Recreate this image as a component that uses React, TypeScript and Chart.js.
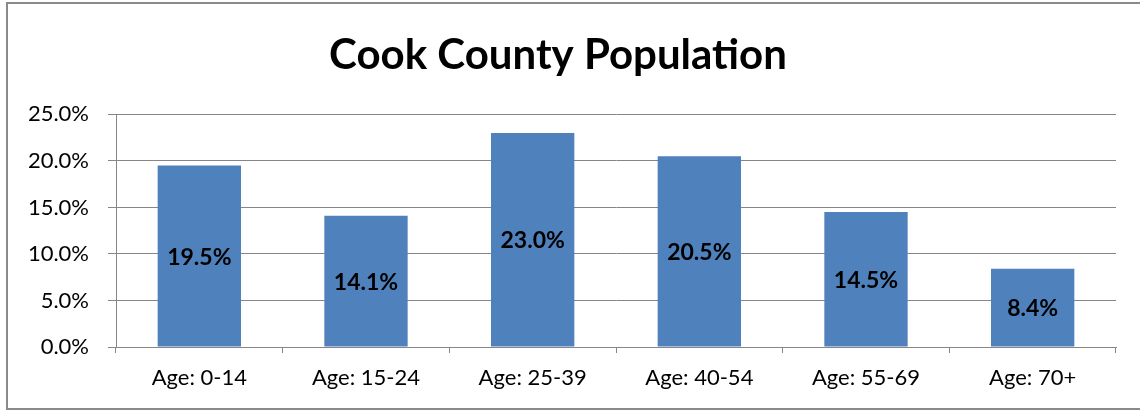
import React, { useEffect, useRef } from "react";
import { Chart, registerables } from "chart.js";

Chart.register(...registerables);

const categories = ["Age: 0-14", "Age: 15-24", "Age: 25-39", "Age: 40-54", "Age: 55-69", "Age: 70+"];
const shares = [19.5, 14.1, 23.0, 20.5, 14.5, 8.4];
const titleText = "Cook County Population";

const FONT = "Lato, 'Open Sans', sans-serif";

const framePlugin = {
  id: "frame",
  beforeDraw(chart: any) {
    const ctx = chart.ctx;
    ctx.save();
    ctx.fillStyle = "#ffffff";
    ctx.fillRect(0, 0, chart.width, chart.height);
    ctx.strokeStyle = "#8a8a8a";
    ctx.lineWidth = 2;
    ctx.strokeRect(7, 3, chart.width + 20, 406);
    ctx.restore();
  },
};

const valueLabelPlugin = {
  id: "valueLabels",
  afterDatasetsDraw(chart: any) {
    const ctx = chart.ctx;
    const meta = chart.getDatasetMeta(0);
    const yScale = chart.scales.y;
    ctx.save();
    ctx.font = `bold 23px ${FONT}`;
    ctx.fillStyle = "#000000";
    ctx.textAlign = "center";
    ctx.textBaseline = "middle";
    meta.data.forEach((bar: any, i: number) => {
      const v = shares[i];
      const yMid = (yScale.getPixelForValue(v) + yScale.getPixelForValue(0)) / 2;
      ctx.fillText(v.toFixed(1) + "%", bar.x, yMid + 1);
    });
    ctx.restore();
  },
};

export default function App() {
  const ref = useRef<HTMLCanvasElement>(null);
  useEffect(() => {
    if (!ref.current) return;
    const chart = new Chart(ref.current, {
      type: "bar",
      data: {
        labels: categories,
        datasets: [
          {
            data: shares,
            backgroundColor: "#4F81BD",
            borderWidth: 0,
            categoryPercentage: 1.0,
            barPercentage: 0.5,
          },
        ],
      },
      options: {
        responsive: false,
        animation: false,
        events: [],
        layout: { padding: { left: 0, right: 24, top: 0, bottom: 0 } },
        plugins: {
          legend: { display: false },
          tooltip: { enabled: false },
          title: {
            display: true,
            text: titleText,
            color: "#000000",
            font: { family: FONT, size: 42, weight: "bold", lineHeight: 1.2 },
            padding: { top: 30, bottom: 34 },
          },
        },
        scales: {
          x: {
            offset: true,
            grid: {
              offset: true,
              drawOnChartArea: false,
              drawTicks: true,
              tickLength: 6,
              color: "#868686",
            },
            border: { display: true, color: "#868686", width: 1 },
            ticks: {
              color: "#000000",
              font: { family: FONT, size: 22 },
              padding: 12,
              maxRotation: 0,
            },
            afterFit(scale: any) {
              scale.height = 65;
            },
          },
          y: {
            min: 0,
            max: 25,
            grid: {
              color: "#868686",
              drawTicks: true,
              tickLength: 8,
            },
            border: { display: true, color: "#868686", width: 1 },
            ticks: {
              stepSize: 5,
              color: "#000000",
              font: { family: FONT, size: 22 },
              padding: 19,
              callback: (v: any) => Number(v).toFixed(1) + "%",
            },
            afterFit(scale: any) {
              scale.width = 116;
            },
          },
        },
      },
      plugins: [framePlugin, valueLabelPlugin],
    });
    return () => chart.destroy();
  }, []);
  return (
    <div style={{ position: "absolute", left: 0, top: 0, width: 1140, height: 412 }}>
      <canvas ref={ref} width={1140} height={412} style={{ width: 1140, height: 412 }} />
    </div>
  );
}
